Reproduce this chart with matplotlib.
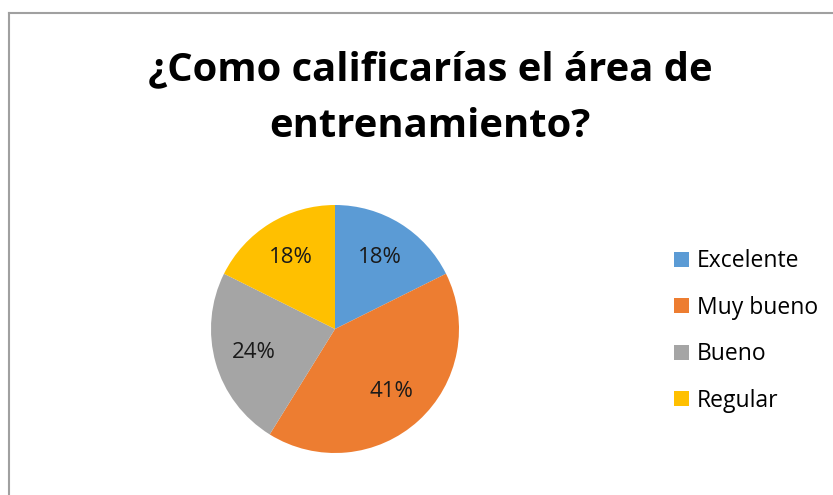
import matplotlib
matplotlib.use("Agg")
import matplotlib.pyplot as plt
from matplotlib.lines import Line2D
from matplotlib.patches import Patch

# --- Data ---
categories = ["Excelente", "Muy bueno", "Bueno", "Regular"]
counts = [3, 7, 4, 3]
colors = ["#5B9BD5", "#ED7D31", "#A5A5A5", "#FFC000"]
title = "¿Como calificarías el área de\nentrenamiento?"

W, H = 833, 495
fig = plt.figure(figsize=(W / 100, H / 100), dpi=100)
plt.rcParams["font.family"] = ["Open Sans", "DejaVu Sans"]

# chart frame (only left and top edges visible)
fig.add_artist(Line2D([8.5 / W, 8.5 / W], [0, 1 - 13 / H], color="#A0A0A0", lw=1.5))
fig.add_artist(Line2D([8.5 / W, 1], [1 - 13 / H, 1 - 13 / H], color="#A0A0A0", lw=1.5))

fig.text(430 / W, 1 - 98 / H, title, ha="center", va="center",
         fontsize=28.8, fontweight="bold", linespacing=1.6)

# pie centre (335, 329), radius 124 px
cx, cy, r = 335, 329, 124
ax = fig.add_axes([(cx - r) / W, (H - cy - r) / H, 2 * r / W, 2 * r / H])
wedges, _, autotexts = ax.pie(counts, colors=colors, startangle=90, counterclock=False,
                              autopct="%.0f%%", pctdistance=0.68,
                              textprops=dict(fontsize=16, color="#1A1A1A"))
ax.set_xlim(-1, 1)
ax.set_ylim(-1, 1)
ax.set_aspect("equal")
ax.axis("off")

handles = [Patch(facecolor=c, edgecolor="none") for c in colors]
fig.legend(handles, categories, loc="center left", bbox_to_anchor=(663 / W, 1 - 331 / H),
           frameon=False, fontsize=16.5, labelspacing=0.98, handlelength=0.62,
           handleheight=0.62, handletextpad=0.35, borderpad=0)

fig.savefig("out.png", dpi=100, facecolor="white")
